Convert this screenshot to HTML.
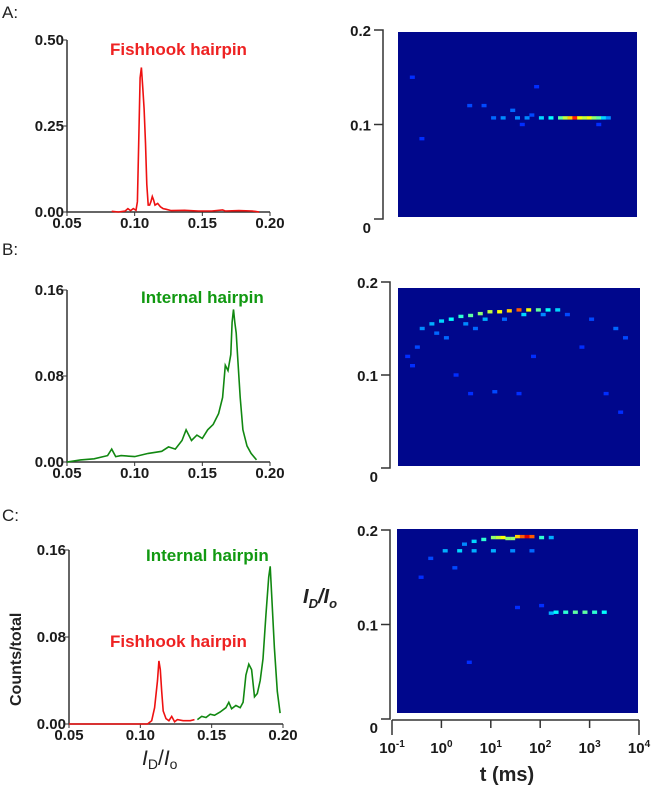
<!DOCTYPE html>
<html><head><meta charset="utf-8">
<style>
html,body{margin:0;padding:0;background:#fff;}
svg{display:block;font-family:"Liberation Sans",Arial,sans-serif;}
.tk{font-weight:bold;font-size:15px;fill:#1a1a1a;}
.pl{font-size:17px;fill:#222;}
</style></head><body>
<svg id="fig" width="655" height="790" viewBox="0 0 655 790" xmlns="http://www.w3.org/2000/svg">
<text class="pl" x="2" y="18">A:</text>
<text class="pl" x="2" y="255">B:</text>
<text class="pl" x="2" y="521">C:</text>
</svg>
<script>
// ---------- histogram data ----------
const histAX=[0.083,0.088,0.093,0.095,0.097,0.099,0.101,0.102,0.103,0.104,0.105,0.106,0.107,0.108,0.109,0.110,0.111,0.112,0.113,0.114,0.115,0.117,0.119,0.121,0.123,0.127,0.137,0.147,0.157,0.165,0.167,0.177,0.187,0.192];
const histAY=[0.002,0,0.003,0.01,0.004,0.01,0.005,0.03,0.2,0.39,0.42,0.36,0.3,0.2,0.08,0.02,0.02,0.03,0.045,0.035,0.02,0.025,0.015,0.01,0.008,0.004,0.005,0.003,0.003,0.006,0.003,0.004,0.003,0];
const histBX=[0.05,0.06,0.07,0.08,0.083,0.086,0.09,0.1,0.11,0.12,0.125,0.13,0.135,0.138,0.142,0.146,0.15,0.154,0.158,0.162,0.165,0.167,0.169,0.171,0.172,0.173,0.174,0.175,0.176,0.178,0.18,0.183,0.186,0.19];
const histBY=[0,0.002,0.003,0.006,0.012,0.005,0.006,0.005,0.008,0.01,0.014,0.012,0.02,0.03,0.02,0.025,0.022,0.03,0.035,0.045,0.06,0.09,0.085,0.1,0.13,0.142,0.13,0.12,0.1,0.06,0.03,0.015,0.008,0.002];
const histCrX=[0.05,0.08,0.105,0.108,0.11,0.112,0.113,0.114,0.115,0.116,0.118,0.12,0.122,0.124,0.126,0.13,0.135,0.138];
const histCrY=[0,0,0,0.003,0.015,0.04,0.058,0.05,0.03,0.012,0.005,0.003,0.007,0.002,0.004,0.003,0.003,0.004];
const histCgX=[0.14,0.143,0.146,0.149,0.152,0.156,0.16,0.162,0.164,0.167,0.17,0.172,0.174,0.176,0.178,0.18,0.182,0.184,0.186,0.188,0.19,0.191,0.192,0.194,0.196,0.198];
const histCgY=[0.004,0.007,0.006,0.009,0.008,0.011,0.015,0.02,0.014,0.017,0.015,0.02,0.045,0.055,0.05,0.025,0.028,0.04,0.06,0.1,0.135,0.145,0.12,0.07,0.03,0.01];
const tickAX=["0.05","0.10","0.15","0.20"], tickAXv=[0.05,0.10,0.15,0.20];
const tickAY=["0.00","0.25","0.50"], tickAYv=[0,0.25,0.5];
const tickBY=["0.00","0.08","0.16"], tickBYv=[0,0.08,0.16];
// ---------- heatmap spots: log10(t), I_D/I_o, intensity ----------
const hmAT=[1.0,1.2,1.5,1.7,2.0,2.2,2.4,2.5,2.6,2.7,2.8,2.9,3.0,3.1,3.2,3.3,3.4,0.5,0.8,1.4,-0.7,-0.5,1.9,1.8,3.2,1.6];
const hmAY=[0.107,0.107,0.107,0.107,0.107,0.107,0.107,0.107,0.107,0.107,0.107,0.107,0.107,0.107,0.107,0.107,0.107,0.12,0.12,0.115,0.15,0.085,0.14,0.11,0.1,0.1];
const hmAV=[0.25,0.3,0.3,0.3,0.4,0.45,0.55,0.65,0.75,0.9,0.7,0.65,0.7,0.6,0.55,0.4,0.3,0.2,0.2,0.25,0.15,0.15,0.15,0.2,0.15,0.15];
const hmBT=[-0.5,-0.3,-0.1,0.1,0.3,0.5,0.7,0.9,1.1,1.3,1.5,1.7,1.9,2.1,2.3,-0.6,0.0,0.6,1.2,2.5,3.0,3.5,3.7,-0.8,0.5,1.0,1.5,3.3,3.6,0.2,1.8,-0.2,0.4,0.8,1.6,2.0,-0.7,2.8];
const hmBY=[0.15,0.155,0.158,0.16,0.163,0.164,0.166,0.168,0.168,0.169,0.17,0.17,0.17,0.17,0.17,0.13,0.14,0.15,0.16,0.165,0.16,0.15,0.14,0.12,0.08,0.082,0.08,0.08,0.06,0.1,0.12,0.145,0.155,0.16,0.165,0.165,0.11,0.13];
const hmBV=[0.3,0.35,0.4,0.45,0.5,0.55,0.6,0.65,0.7,0.75,0.85,0.7,0.55,0.45,0.4,0.2,0.25,0.25,0.25,0.2,0.2,0.25,0.2,0.15,0.15,0.2,0.15,0.15,0.15,0.15,0.15,0.25,0.3,0.35,0.4,0.3,0.15,0.15];
const hmCT=[0.6,0.8,1.0,1.1,1.2,1.3,1.4,1.5,1.6,1.7,1.8,2.0,2.2,0.0,0.3,0.6,1.0,1.4,1.8,2.2,2.3,2.5,2.7,2.9,3.1,3.3,-0.5,0.2,1.5,2.0,0.5,-0.3,0.4];
const hmCY=[0.188,0.19,0.192,0.192,0.192,0.191,0.191,0.193,0.193,0.193,0.193,0.192,0.192,0.178,0.178,0.178,0.178,0.178,0.178,0.112,0.113,0.113,0.113,0.113,0.113,0.113,0.15,0.16,0.118,0.12,0.06,0.17,0.185];
const hmCV=[0.4,0.5,0.6,0.65,0.7,0.6,0.6,0.75,0.85,0.95,0.85,0.5,0.35,0.35,0.4,0.35,0.35,0.3,0.25,0.35,0.45,0.5,0.55,0.55,0.5,0.45,0.15,0.2,0.15,0.15,0.15,0.2,0.3];

const NS="http://www.w3.org/2000/svg";
const svg=document.getElementById('fig');
function mk(tag,attrs,parent){const e=document.createElementNS(NS,tag);for(const k in attrs)e.setAttribute(k,attrs[k]);(parent||svg).appendChild(e);return e;}
function jet(v){const r=Math.min(1,Math.max(0,1.5-Math.abs(4*v-3))),g=Math.min(1,Math.max(0,1.5-Math.abs(4*v-2))),b=Math.min(1,Math.max(0,1.5-Math.abs(4*v-1)));return `rgb(${Math.round(r*255)},${Math.round(g*255)},${Math.round(b*255)})`;}

function hist(o){
  const g=mk('g',{});
  
  
  const sx=v=>o.x0+(v-0.05)/0.15*(o.x1-o.x0);
  const sy=v=>o.y0-(v/o.ymax)*(o.y0-o.y1);
  const ax=mk('path',{d:`M${o.x0},${o.y1} V${o.y0} H${o.x1}`,stroke:'#333','stroke-width':1.5,fill:'none'},g);
   
  o.yt.forEach((v,i)=>{const y=sy(v);mk('line',{x1:o.x0-4,x2:o.x0,y1:y,y2:y,stroke:'#333'},g);
    const t=mk('text',{x:o.x0-3,y:y+5,'text-anchor':'end',class:'tk'},g);t.textContent=o.ytl[i];
     });
  tickAXv.forEach((v,i)=>{const x=sx(v);mk('line',{x1:x,x2:x,y1:o.y0,y2:o.y0+4,stroke:'#333'},g);
    const t=mk('text',{x:x,y:o.y0+16,'text-anchor':'middle',class:'tk'},g);t.textContent=tickAX[i];
     });
  o.series.forEach(s=>{let d='';s.x.forEach((v,i)=>{d+=(i?'L':'M')+sx(v).toFixed(1)+','+sy(s.y[i]).toFixed(1);});
    const p=mk('path',{d:d,stroke:s.c,'stroke-width':1.6,fill:'none'},g);
     });
  return g;
}
hist({name:'hist-a',x0:67,x1:270,y0:212,y1:40,ymax:0.5,yt:tickAYv,ytl:tickAY,series:[{x:histAX,y:histAY,c:'#ee1111',n:'fishhook-line'}]});
hist({name:'hist-b',x0:67,x1:270,y0:462,y1:290,ymax:0.16,yt:tickBYv,ytl:tickBY,series:[{x:histBX,y:histBY,c:'#118811',n:'internal-line'}]});
hist({name:'hist-c',x0:69,x1:283,y0:724,y1:550,ymax:0.16,yt:tickBYv,ytl:tickBY,series:[{x:histCrX,y:histCrY,c:'#ee1111',n:'fishhook-line'},{x:histCgX,y:histCgY,c:'#118811',n:'internal-line'}]});

function lab(x,y,txt,c,name){const t=mk('text',{x:x,y:y,fill:c,'font-weight':'bold','font-size':'17px'});t.textContent=txt;return t;}
lab(110,55,'Fishhook hairpin','#ee2222','label-fishhook-a');
lab(141,303,'Internal hairpin','#119911','label-internal-b');
lab(146,561,'Internal hairpin','#119911','label-internal-c');
lab(110,647,'Fishhook hairpin','#ee2222','label-fishhook-c');
const yl=mk('text',{x:0,y:0,'font-weight':'bold','font-size':'16px',fill:'#222',transform:'translate(21,706) rotate(-90)'});yl.textContent='Counts/total';

const xl=mk('text',{x:142,y:765,'font-size':'21px',fill:'#222'});xl.innerHTML='<tspan font-style="italic">I</tspan><tspan font-size="14" dy="4">D</tspan><tspan dy="-4">/</tspan><tspan font-style="italic">I</tspan><tspan font-size="14" dy="4">o</tspan>';


function heat(o){
  const g=mk('g',{});
  
  
  const tx=v=>o.hx0+(v+1)/5*(o.hx1-o.hx0);
  const ty=v=>o.b0-(v/0.2)*(o.b0-o.b2);
  const bg=mk('rect',{x:o.hx0,y:o.hy0,width:o.hx1-o.hx0,height:o.hy1-o.hy0,fill:'#00078c'},g);
  
  o.T.forEach((t,i)=>{const c=mk('rect',{x:tx(t)-2.5,y:ty(o.Y[i])-1.7,width:5,height:3.4,fill:jet(0.12+Math.pow(o.V[i],1.5)*0.85)},g);
    });
  mk('path',{d:`M${o.bx-9},${o.b2} H${o.bx} V${o.b0} H${o.bx-9}`,stroke:'#333','stroke-width':1.5,fill:'none'},g);
  const ym=ty(0.1);mk('line',{x1:o.bx-9,x2:o.bx,y1:ym,y2:ym,stroke:'#333','stroke-width':1.5},g);
  [['0.2',o.b2],['0.1',ym],['0',o.b0]].forEach(a=>{const t=mk('text',{x:o.bx-12,y:a[1]+(a[0]=='0'?14:6),'text-anchor':'end',class:'tk','font-size':'16px'},g);t.textContent=a[0];
    });
}
heat({name:'heatmap-a',hx0:398,hx1:637,hy0:32,hy1:217,bx:383,b0:219,b2:30,T:hmAT,Y:hmAY,V:hmAV});
heat({name:'heatmap-b',hx0:398,hx1:640,hy0:288,hy1:466,bx:390,b0:468,b2:282,T:hmBT,Y:hmBY,V:hmBV});
heat({name:'heatmap-c',hx0:397,hx1:638,hy0:529,hy1:713,bx:390,b0:719,b2:530,T:hmCT,Y:hmCY,V:hmCV});
// x-axis for C heatmap
const tExp=["-1","0","1","2","3","4"], tExpV=[-1,0,1,2,3,4];
const txa=v=>392+(v+1)/5*(639-392);
mk('line',{x1:392,x2:639,y1:720,y2:720,stroke:'#333','stroke-width':1.5});
tExpV.forEach((v,i)=>{const x=txa(v);mk('line',{x1:x,x2:x,y1:720,y2:i==0||i==5?735:728,stroke:'#333','stroke-width':1.5});
  const t=mk('text',{x:x,y:753,'text-anchor':'middle',class:'tk','font-size':'14px'});t.innerHTML='10<tspan font-size="10" dy="-6">'+tExp[i]+'</tspan>';
  });
const tl=mk('text',{x:507,y:781,'text-anchor':'middle','font-weight':'bold','font-size':'20px',fill:'#222'});tl.textContent='t (ms)';

const il=mk('text',{x:303,y:603,'font-weight':'bold','font-size':'20px',fill:'#222'});il.innerHTML='<tspan font-style="italic">I</tspan><tspan font-size="13" dy="5" font-style="italic">D</tspan><tspan dy="-5" font-style="italic">/I</tspan><tspan font-size="13" dy="5" font-style="italic">o</tspan>';

</script>
</body></html>
